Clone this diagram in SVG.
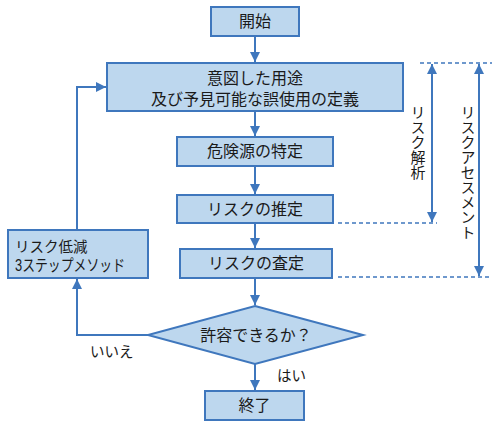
<svg xmlns="http://www.w3.org/2000/svg" width="499" height="427" viewBox="0 0 499 427">
<style>
.box{fill:#BDD7EE;stroke:#3F77BD;stroke-width:2}
.ln{fill:none;stroke:#3F77BD;stroke-width:2}
.dash{fill:none;stroke:#3F77BD;stroke-width:1.5;stroke-dasharray:4 3}
text{font-family:"Liberation Sans","Noto Sans CJK JP",sans-serif;font-size:16px;fill:#1a1a1a}
.c{text-anchor:middle;dominant-baseline:central}
.s{font-size:14.5px}
.v{writing-mode:vertical-rl;font-size:15px}
</style>
<defs>
<marker id="ah" viewBox="0 0 10 10" refX="10" refY="5" markerWidth="10" markerHeight="10" markerUnits="userSpaceOnUse" orient="auto-start-reverse">
<path d="M0,0 L10,5 L0,10 z" fill="#3F77BD"/>
</marker>
</defs>
<rect width="499" height="427" fill="#fff"/>
<g id="connectors">
<line class="ln" x1="255" y1="36" x2="255" y2="62" marker-end="url(#ah)"/>
<line class="ln" x1="255" y1="111" x2="255" y2="136" marker-end="url(#ah)"/>
<line class="ln" x1="255" y1="166" x2="255" y2="194" marker-end="url(#ah)"/>
<line class="ln" x1="255" y1="223" x2="255" y2="248" marker-end="url(#ah)"/>
<line class="ln" x1="255" y1="278" x2="255" y2="305" marker-end="url(#ah)"/>
<line class="ln" x1="255" y1="364" x2="255" y2="390" marker-end="url(#ah)"/>
<polyline class="ln" points="148,335 77,335 77,279" marker-end="url(#ah)"/>
<polyline class="ln" points="77,230 77,87 106,87" marker-end="url(#ah)"/>
<line class="dash" x1="420" y1="63" x2="492" y2="63"/>
<line class="dash" x1="338" y1="223" x2="437" y2="223"/>
<line class="dash" x1="338" y1="277" x2="490" y2="277"/>
<line class="ln" x1="432" y1="64" x2="432" y2="222" marker-start="url(#ah)" marker-end="url(#ah)"/>
<line class="ln" x1="479" y1="64" x2="479" y2="276" marker-start="url(#ah)" marker-end="url(#ah)"/>
<text class="s" x="90" y="352" dominant-baseline="central">いいえ</text>
<text class="s" x="277" y="376" dominant-baseline="central">はい</text>
<text class="v" x="417" y="105">リスク解析</text>
<text class="v" x="467" y="105">リスクアセスメント</text>
</g>
<g id="start">
<rect class="box" x="211" y="7" width="88" height="29"/>
<text class="c" x="255" y="21.5">開始</text>
</g>
<g id="define">
<rect class="box" x="107" y="63" width="296" height="48"/>
<text class="c" x="255" y="78">意図した用途</text>
<text class="c" x="255" y="99">及び予見可能な誤使用の定義</text>
</g>
<g id="hazard">
<rect class="box" x="177" y="137" width="156" height="29"/>
<text class="c" x="255" y="151.5">危険源の特定</text>
</g>
<g id="estimate">
<rect class="box" x="177" y="195" width="156" height="28"/>
<text class="c" x="255" y="209">リスクの推定</text>
</g>
<g id="evaluate">
<rect class="box" x="180" y="249" width="152" height="29"/>
<text class="c" x="256" y="263.5">リスクの査定</text>
</g>
<g id="decision">
<polygon class="box" points="255,306 363,335 255,364 148,335"/>
<text class="c" x="256" y="335">許容できるか？</text>
</g>
<g id="end">
<rect class="box" x="205" y="391" width="99" height="29"/>
<text class="c" x="254.5" y="405.5">終了</text>
</g>
<g id="reduce">
<rect class="box" x="8" y="230" width="140" height="48"/>
<text class="s" x="15" y="247" dominant-baseline="central">リスク低減</text>
<text x="15" y="265" dominant-baseline="central" font-size="13.5" textLength="110" lengthAdjust="spacingAndGlyphs">3ステップメソッド</text>
</g>
</svg>
